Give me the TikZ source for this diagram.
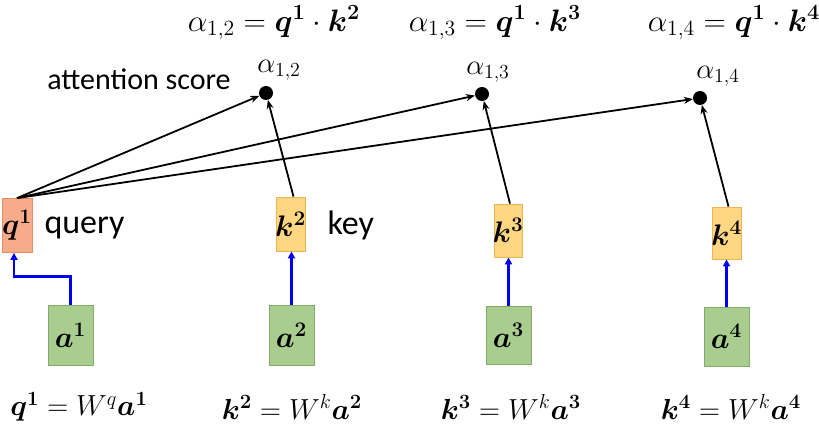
\RequirePackage{fix-cm}
\documentclass[tikz,border=0pt]{standalone}
\usepackage{amsmath}
\usepackage{bm}
\usepackage{fontspec}
\setmainfont{Carlito}
\usetikzlibrary{arrows.meta}
\definecolor{qfill}{RGB}{246,172,138}
\definecolor{qdraw}{RGB}{232,140,100}
\definecolor{kfill}{RGB}{255,214,130}
\definecolor{kdraw}{RGB}{242,180,80}
\definecolor{afill}{RGB}{168,205,143}
\definecolor{adraw}{RGB}{130,170,105}
\definecolor{bluearr}{RGB}{0,0,240}
\tikzset{
  qbox/.style={draw=qdraw, fill=qfill, line width=0.8pt, inner sep=0pt},
  kbox/.style={draw=kdraw, fill=kfill, line width=0.8pt, inner sep=0pt},
  abox/.style={draw=adraw, fill=afill, line width=0.8pt, inner sep=0pt, minimum width=45pt},
  boxtxt/.style={font=\fontsize{22}{24}\selectfont, scale=1.35, transform shape},
  dot/.style={circle, fill=black, inner sep=0pt, minimum size=14pt},
  blk/.style={draw=black, line width=1.8pt, -{Stealth[length=9pt,width=7pt]}},
  blu/.style={draw=bluearr, line width=2.2pt, -{Triangle[length=7pt,width=7pt]}},
  lbl/.style={font=\fontsize{30}{32}\selectfont, anchor=center},
  big/.style={font=\fontsize{34}{36}\selectfont, anchor=west},
  eqn/.style={font=\fontsize{20}{24}\selectfont, anchor=center, scale=1.55, transform shape},
  beqn/.style={font=\fontsize{20}{24}\selectfont, anchor=center, scale=1.45, transform shape},
  alab/.style={font=\fontsize{19}{22}\selectfont, anchor=center, scale=1.5, transform shape}
}
\begin{document}
\begin{tikzpicture}[x=1pt, y=-1pt]
\useasboundingbox (0,0) rectangle (819,427);
% top equations
\node[eqn] (e12) at (274,23) {$\alpha_{1,2} = \bm{q^1}\cdot \bm{k^2}$};
\node[eqn] (e13) at (495,23) {$\alpha_{1,3} = \bm{q^1}\cdot \bm{k^3}$};
\node[eqn] (e14) at (734,23) {$\alpha_{1,4} = \bm{q^1}\cdot \bm{k^4}$};
% attention score
\node[lbl] (att) at (139,79) {attention score};
% dots
\node[dot] (d12) at (266,93) {};
\node[dot] (d13) at (482,94) {};
\node[dot] (d14) at (700,98) {};
\node[alab] (l12) at (279,70) {$\alpha_{1,2}$};
\node[alab] (l13) at (488,72) {$\alpha_{1,3}$};
\node[alab] (l14) at (718,76) {$\alpha_{1,4}$};
% q and k boxes
\node[qbox, minimum width=30pt, minimum height=54pt] (q1) at (17,225.5) {};
\node[boxtxt] at (q1) {$\bm{q^1}$};
\node[kbox, minimum width=29pt, minimum height=54pt] (k2) at (290.5,224) {};
\node[boxtxt] at (k2) {$\bm{k^2}$};
\node[kbox, minimum width=28pt, minimum height=53pt] (k3) at (508,230.5) {};
\node[boxtxt] at (k3) {$\bm{k^3}$};
\node[kbox, minimum width=29pt, minimum height=52pt] (k4) at (726.5,233) {};
\node[boxtxt] at (k4) {$\bm{k^4}$};
\node[big] (query) at (41,228) {query};
\node[big] (key) at (324,225) {key};
% a boxes
\node[abox, minimum height=60pt] (a1) at (70.5,335) {};
\node[boxtxt] at (a1) {$\bm{a^1}$};
\node[abox, minimum height=60pt] (a2) at (291.5,335) {};
\node[boxtxt] at (a2) {$\bm{a^2}$};
\node[abox, minimum height=58pt] (a3) at (508.5,335) {};
\node[boxtxt] at (a3) {$\bm{a^3}$};
\node[abox, minimum height=59pt] (a4) at (726.5,336.5) {};
\node[boxtxt] at (a4) {$\bm{a^4}$};
% bottom equations
\node[beqn] (b1) at (79,407) {$\bm{q^1} = W^q\bm{a^1}$};
\node[beqn] (b2) at (292,407) {$\bm{k^2} = W^k\bm{a^2}$};
\node[beqn] (b3) at (511,407) {$\bm{k^3} = W^k\bm{a^3}$};
\node[beqn] (b4) at (731,407) {$\bm{k^4} = W^k\bm{a^4}$};
% blue arrows
\draw[blu] (a1.north) -- ++(0,-28) -| ([xshift=-3pt]q1.south);
\draw[blu] (a2.north) -- (k2.south -| a2.north);
\draw[blu] (a3.north) -- (k3.south -| a3.north);
\draw[blu] (a4.north) -- (k4.south);
% black arrows
\draw[blk] (q1.north) -- (d12);
\draw[blk] (q1.north) -- (d13);
\draw[blk] (q1.north) -- (d14);
\draw[blk] ([xshift=3pt]k2.north) -- (d12);
\draw[blk] ([xshift=2pt]k3.north) -- (d13);
\draw[blk] ([xshift=2pt]k4.north) -- (d14);
\end{tikzpicture}
\end{document}
